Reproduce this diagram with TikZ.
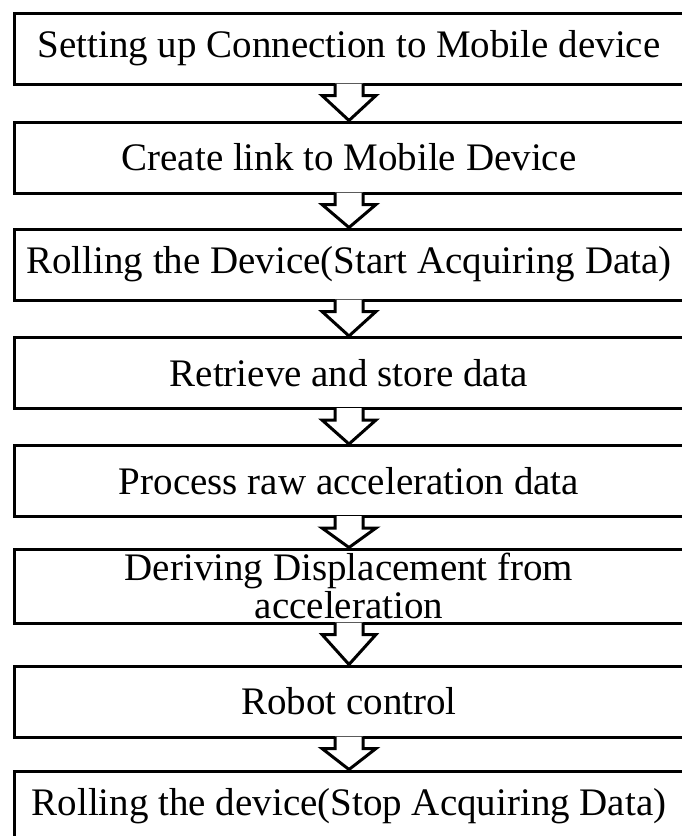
\documentclass[tikz,border=0pt]{standalone}
\usepackage{fontspec}
\setmainfont{Liberation Serif}
\usetikzlibrary{calc}

\begin{document}
\begin{tikzpicture}[
    x=0.5pt, y=-0.5pt,
    stage/.style={rectangle, draw, line width=1.5pt, minimum width=335pt, minimum height=35.5pt, inner sep=0pt, align=center, font=\fontsize{19.5}{19}\selectfont},
    block/.style={draw, line width=1.5pt, fill=white, to path={
        ($(\tikztostart.south)+(-14,-2)$) -- ++(0,12) -- ++(-13,0) -- (\tikztotarget.north)
        -- ($(\tikztostart.south)+(27,10)$) -- ++(-13,0) -- ++(0,-12)}}
]
\useasboundingbox (0,0) rectangle (681,836);

% Define boxes
\node[stage] (setup) at (349,48.5) {Setting up Connection to Mobile device};
\node[stage] (link) at (349,157.5) {Create link to Mobile Device};
\node[stage] (startroll) at (349,264.5) {Rolling the Device(Start Acquiring Data)};
\node[stage] (store) at (349,373) {Retrieve and store data};
\node[stage] (process) at (349,481) {Process raw acceleration data};
\node[stage, minimum height=37pt] (displace) at (349,586) {Deriving Displacement from\\acceleration};
\node[stage] (robot) at (349,701.5) {Robot control};
\node[stage] (stoproll) at (349,806.5) {Rolling the device(Stop Acquiring Data)};

% Define arrows between boxes
\draw[block] (setup) to (link);
\draw[block] (link) to (startroll);
\draw[block] (startroll) to (store);
\draw[block] (store) to (process);
\draw[block] (process) to (displace);
\draw[block] (displace) to (robot);
\draw[block] (robot) to (stoproll);

\end{tikzpicture}
\end{document}
